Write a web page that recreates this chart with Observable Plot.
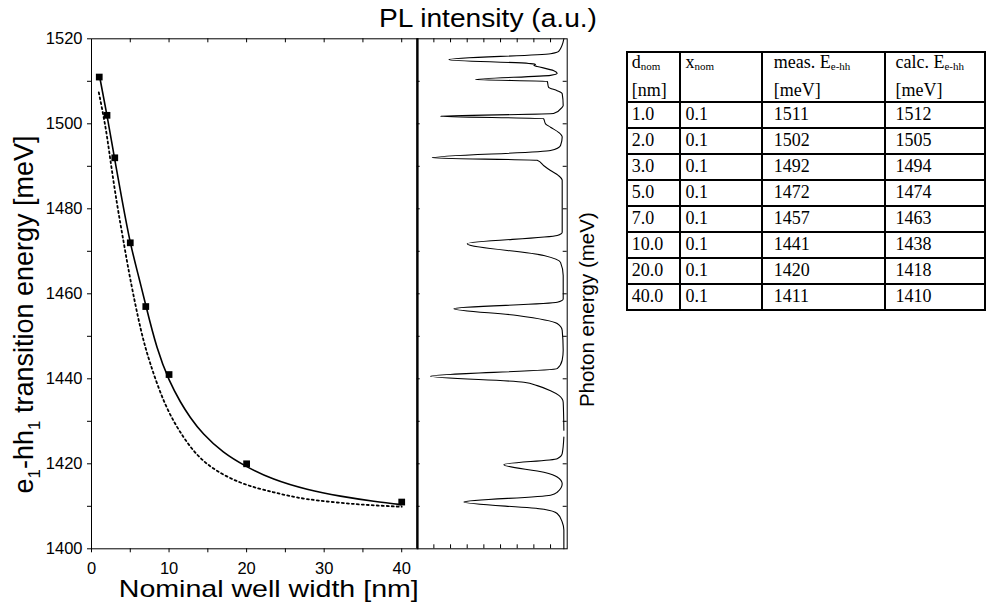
<!DOCTYPE html>
<html><head><meta charset="utf-8">
<script src="https://cdn.jsdelivr.net/npm/d3@7"></script>
<script src="https://cdn.jsdelivr.net/npm/@observablehq/plot@0.6"></script>
<style>
body{margin:0;background:#fff;}
#wrap{position:relative;width:986px;height:608px;overflow:hidden;background:#fff;}
#left,#pl{position:absolute;top:0;}
#left{left:0;} #pl{left:300px;}
#tbl{position:absolute;left:626.3px;top:50.7px;border-collapse:collapse;table-layout:fixed;width:359.7px;
  font-family:"Liberation Serif","Times New Roman",serif;font-size:18px;color:#000;}
#tbl td{border:2px solid #000;padding:0;white-space:nowrap;}
#tbl tr.h td{height:48.7px;vertical-align:top;line-height:18px;}
#tbl tr.h td div.l2{margin-top:10.6px;}
#tbl tr.b td{height:23.9px;line-height:23.9px;vertical-align:top;}
#tbl sub{font-size:11px;vertical-align:-2px;line-height:0;}
#tbl td.c1{padding-left:3.5px;} #tbl td.c2{padding-left:4.5px;}
#tbl td.c3{padding-left:10.5px;} #tbl td.c4{padding-left:9.5px;}
</style>
</head><body>
<div id="wrap"></div>
<script>
// ---- data ----
const dNom  = [1, 2, 3, 5, 7, 10, 20, 40];
const xNom  = [0.1, 0.1, 0.1, 0.1, 0.1, 0.1, 0.1, 0.1];
const measE = [1511, 1502, 1492, 1472, 1457, 1441, 1420, 1411];
const calcE = [1512, 1505, 1494, 1474, 1463, 1438, 1418, 1410];

// solid fitted curve
const fitD = [1.07, 2.0, 2.96, 3.95, 5.02, 6.1, 7.04, 8.45, 10.0, 11.46, 12.75, 14.46, 17.0, 19.96, 23.5, 27.8, 32.1, 36.4, 40.0];
const fitE = [1510.9, 1501.9, 1492.0, 1482.0, 1472.0, 1463.9, 1457.0, 1447.4, 1439.8, 1434.6, 1430.9, 1427.0, 1422.8, 1419.4, 1416.4, 1414.0, 1412.4, 1411.2, 1410.4];
// dotted curve
const dotD = [0.94, 1.8, 2.45, 3.3, 4.16, 5.0, 6.3, 7.6, 9.5, 11.9, 14.9, 19.2, 23.5, 27.8, 34.2, 40.0];
const dotE = [1507.4, 1499.2, 1491.3, 1481.1, 1472.0, 1463.5, 1452.1, 1443.5, 1434.1, 1426.2, 1420.0, 1415.6, 1413.3, 1411.7, 1410.5, 1409.9];

// PL spectrum: photon energy (meV) and intensity (a.u.)
const plE = [1520.0, 1517.1, 1516.5, 1515.1, 1514.2, 1514.0, 1513.7, 1513.5, 1512.5, 1511.9, 1511.4, 1510.4, 1510.0, 1508.6, 1507.8, 1507.1,
  1504.3, 1503.9, 1502.4, 1501.8, 1501.2, 1500.0, 1499.2, 1498.0, 1496.9, 1494.9, 1493.7, 1492.0, 1491.4, 1490.2, 1489.0, 1487.8, 1486.7,
  1474.5, 1473.7, 1471.8, 1469.0, 1467.4, 1464.3, 1458.8, 1458.0, 1456.5, 1454.9, 1453.0, 1451.4, 1446.7, 1444.4, 1442.4, 1440.6, 1439.2,
  1438.4, 1437.2, 1436.1, 1434.5, 1427.9, 1427.1, 1426.3, 1422.4, 1421.2, 1419.8, 1418.0, 1416.9, 1415.3, 1413.3, 1412.6, 1411.0, 1409.3,
  1408.3, 1406.3, 1404.4, 1400.0];
const plI = [2.0, 5.0, 10.0, 71.0, 23.0, 19.0, 20.0, 18.0, 8.0, 6.0, 10.0, 55.0, 12.0, 11.2, 6.0, 3.0,
  2.4, 3.0, 8.2, 76.0, 14.2, 13.0, 10.0, 5.2, 3.0, 4.0, 10.0, 81.0, 18.0, 14.2, 10.0, 5.2, 3.0,
  3.0, 6.0, 60.0, 14.0, 4.0, 2.4, 2.4, 6.0, 68.0, 30.0, 6.0, 3.0, 2.4, 3.0, 6.0, 82.0, 26.0,
  18.0, 10.0, 5.0, 2.4, 2.0, null, 2.0, 3.0, 6.0, 38.0, 14.0, 6.0, 3.0, 6.0, 10.0, 62.0, 14.0,
  6.0, 3.0, 2.0, 2.0];

const yTicks = d3.range(1400, 1521, 10);
const xTicks = d3.range(0, 41, 5);
const plTicks = d3.range(10, 90, 10);

const xLabel = "Nominal well width [nm]";
const yLabel = "e1-hh1 transition energy [meV]";
const plTitle = "PL intensity (a.u.)";
const plYLabel = "Photon energy (meV)";

// ---- build ----
const meas = dNom.map((d, i) => ({d, e: measE[i]}));
const fit = fitD.map((d, i) => ({d, e: fitE[i]}));
const dots = dotD.map((d, i) => ({d, e: dotE[i]}));
const pl = plE.map((e, i) => ({e, v: plI[i]}));

const font = "'Liberation Sans', Arial, Helvetica, sans-serif";
const wrap = document.getElementById("wrap");

const left = Plot.plot({
  width: 420, height: 608,
  marginLeft: 91, marginRight: 2.5, marginTop: 38.3, marginBottom: 59.7,
  x: {domain: [0, 42.1]},
  y: {domain: [1400, 1520]},
  style: {background: "transparent", fontFamily: font, color: "black"},
  marks: [
    Plot.frame({stroke: "black"}),
    Plot.axisY({ticks: yTicks, tickSize: 4, tickPadding: 5, fontSize: 16.5, label: null,
      tickFormat: d => d % 20 === 0 ? String(d) : ""}),
    Plot.axisX({ticks: xTicks, tickSize: 4, tickPadding: 9, fontSize: 16.5, label: null,
      tickFormat: d => d % 10 === 0 ? String(d) : ""}),
    Plot.tickX(xTicks.filter(d => d > 0), {x: d => d, insetBottom: 506, stroke: "black"}),
    Plot.line(dots, {x: "d", y: "e", curve: "natural", stroke: "black", strokeWidth: 1.8, strokeDasharray: "2,3"}),
    Plot.line(fit, {x: "d", y: "e", curve: "natural", stroke: "black", strokeWidth: 1.6}),
    Plot.dot(meas, {x: "d", y: "e", symbol: "square", r: 3.8, fill: "black", stroke: null}),
    Plot.text([yLabel], {text: d => d, frameAnchor: "left", rotate: -90, dx: -59, dy: 20.7, lineAnchor: "bottom", textAnchor: "middle", fontSize: 27, fill: "black"}),
    Plot.text([xLabel], {text: d => d, frameAnchor: "bottom", lineAnchor: "bottom", dy: 48.4, dx: 14, fontSize: 24, fill: "black"})
  ]
});
left.id = "left";
wrap.appendChild(left);

const plp = Plot.plot({
  width: 320, height: 608,
  marginLeft: 116.7, marginRight: 53.3, marginTop: 38.3, marginBottom: 59.7,
  x: {domain: [90, 0], axis: null},
  y: {domain: [1400, 1520], axis: null},
  style: {background: "transparent", fontFamily: font, color: "black"},
  marks: [
    Plot.frame({stroke: "black"}),
    Plot.ruleX([90], {stroke: "black", strokeWidth: 2}),
    Plot.tickX(plTicks, {x: d => d, insetBottom: 506, stroke: "black"}),
    Plot.tickX(plTicks, {x: d => d, insetTop: 506, stroke: "black"}),
    Plot.tickY(yTicks.slice(1, -1), {y: d => d, insetLeft: 146, stroke: "black"}),
    Plot.tickY(yTicks.slice(1, -1), {y: d => d, insetRight: 147, stroke: "black"}),
    Plot.lineX(pl, {x: "v", y: "e", stroke: "black", strokeWidth: 1.1, curve: "monotone-y"}),
    Plot.text([plTitle], {text: d => d, frameAnchor: "top", lineAnchor: "bottom", dy: -11.6, dx: -4.2, fontSize: 25, fill: "black"}),
    Plot.text([plYLabel], {text: d => d, frameAnchor: "right", rotate: -90, lineAnchor: "bottom", textAnchor: "middle", dx: 26.6, dy: 15.9, fontSize: 20.5, fill: "black"})
  ]
});
plp.id = "pl";
wrap.appendChild(plp);

// text fitting / subscripts
function fitText(svg, str, len) {
  d3.select(svg).selectAll("text").filter(function() { return this.textContent === str; })
    .attr("textLength", len).attr("lengthAdjust", "spacingAndGlyphs");
}
fitText(left, xLabel, 300);
fitText(plp, plTitle, 218);
d3.select(plp).selectAll("text").filter(function() { return this.textContent === plYLabel; }).attr("text-anchor", "middle");
d3.select(left).selectAll("text").filter(function() { return this.textContent === yLabel; }).each(function() {
  const t = d3.select(this);
  t.text(null).attr("text-anchor", "middle");
  const parts = [["e", 0], ["1", 1], ["-hh", 0], ["1", 1], [" transition energy [meV]", 0]];
  for (const [s, sub] of parts) {
    const ts = t.append("tspan").text(s);
    if (sub) ts.attr("font-size", 17).attr("baseline-shift", "-7px");
  }
});

// table
const tbl = d3.select(wrap).append("table").attr("id", "tbl");
const cg = tbl.append("colgroup");
[52.7, 82.3, 122.7, 100].forEach(w => cg.append("col").style("width", w + "px"));
const hr = tbl.append("tr").attr("class", "h");
hr.append("td").attr("class", "c1").html('<div>d<sub>nom</sub></div><div class="l2">[nm]</div>');
hr.append("td").attr("class", "c2").html('<div>x<sub>nom</sub></div>');
hr.append("td").attr("class", "c3").html('<div>meas. E<sub>e-hh</sub></div><div class="l2">[meV]</div>');
hr.append("td").attr("class", "c4").html('<div>calc. E<sub>e-hh</sub></div><div class="l2">[meV]</div>');
dNom.forEach((d, i) => {
  const r = tbl.append("tr").attr("class", "b");
  r.append("td").attr("class", "c1").text(d.toFixed(1));
  r.append("td").attr("class", "c2").text(xNom[i].toFixed(1));
  r.append("td").attr("class", "c3").text(measE[i]);
  r.append("td").attr("class", "c4").text(calcE[i]);
});
</script>
</body></html>
